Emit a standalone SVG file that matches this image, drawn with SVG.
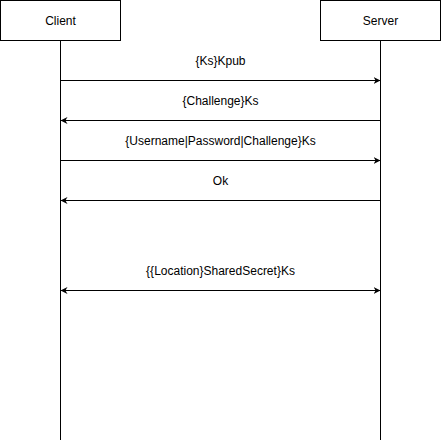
<svg xmlns="http://www.w3.org/2000/svg" width="441" height="442" viewBox="0 0 441 442">
<style>
.box{fill:#fff;stroke:#000;stroke-width:1}
.life{stroke:#000;stroke-width:1;fill:none}
.msg{stroke:#000;stroke-width:1;fill:none}
text{font-family:"Liberation Sans",Arial,sans-serif;font-size:12px;fill:#000;text-anchor:middle}
</style>
<defs>
<marker id="ah" viewBox="0 0 10 10" refX="10" refY="5" markerWidth="7" markerHeight="7" markerUnits="userSpaceOnUse" orient="auto-start-reverse">
<path d="M0,0 L10,5 L0,10 L3,5 Z" fill="#000"/>
</marker>
</defs>
<rect width="441" height="442" fill="#fff"/>
<g id="client">
<rect class="box" x="0.5" y="0.5" width="120" height="40"/>
<text x="60.5" y="24.5">Client</text>
<line class="life" x1="60.5" y1="40.5" x2="60.5" y2="440"/>
</g>
<g id="server">
<rect class="box" x="320.5" y="0.5" width="120" height="40"/>
<text x="380.5" y="24.5">Server</text>
<line class="life" x1="380.5" y1="40.5" x2="380.5" y2="440"/>
</g>
<g id="connectors">
<line class="msg" x1="60.5" y1="80.5" x2="380.5" y2="80.5" marker-end="url(#ah)"/>
<text x="220.5" y="65">{Ks}Kpub</text>
<line class="msg" x1="380.5" y1="120.5" x2="60.5" y2="120.5" marker-end="url(#ah)"/>
<text x="220.5" y="105">{Challenge}Ks</text>
<line class="msg" x1="60.5" y1="160.5" x2="380.5" y2="160.5" marker-end="url(#ah)"/>
<text x="220.5" y="145">{Username|Password|Challenge}Ks</text>
<line class="msg" x1="380.5" y1="200.5" x2="60.5" y2="200.5" marker-end="url(#ah)"/>
<text x="220.5" y="185">Ok</text>
<line class="msg" x1="60.5" y1="290.5" x2="380.5" y2="290.5" marker-start="url(#ah)" marker-end="url(#ah)"/>
<text x="220.5" y="275">{{Location}SharedSecret}Ks</text>
</g>
</svg>
